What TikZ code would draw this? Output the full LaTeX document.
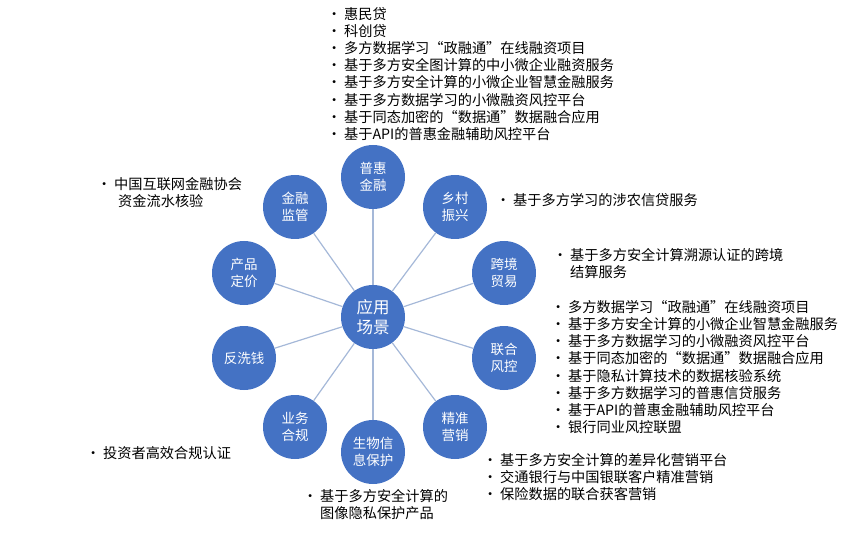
\documentclass[tikz,border=0pt]{standalone}
\usepackage{fontspec}
\setmainfont{Noto Sans CJK SC}
\newcommand{\bl}[1]{\makebox[17pt][l]{•}#1}
\newcommand{\cl}[1]{\makebox[17pt][l]{}#1}
\begin{document}
\begin{tikzpicture}[x=1pt,y=-1pt,
  sat/.style={circle,fill={rgb,255:red,68;green,114;blue,196},minimum size=64pt,inner sep=0pt,text=white,font=\fontsize{13.5}{17}\selectfont,align=center},
  spoke/.style={draw={rgb,255:red,165;green,184;blue,216},line width=1.2pt},
  lst/.style={anchor=north west,align=left,inner sep=0pt,font=\fontsize{14.2}{17.2}\selectfont}]
\useasboundingbox (0,0) rectangle (856,537);
\node[sat,font=\fontsize{16.5}{20}\selectfont] (c) at (373,317) {应用\\场景};
\foreach \n/\x/\y/\t in {a/373/177/{普惠\\金融},b/455/207/{乡村\\振兴},d/504/273/{跨境\\贸易},e/504/358/{联合\\风控},f/455/427/{精准\\营销},g/373/452/{生物信\\息保护},h/295/427/{业务\\合规},i/244/358/{反洗钱},j/244/273/{产品\\定价},k/295/207/{金融\\监管}}{
  \node[sat] (\n) at (\x,\y) {\t};
  \draw[spoke] (c) -- (\n);
}
\node[lst] (la) at (327,7) {\bl{惠民贷}\\\bl{科创贷}\\\bl{多方数据学习“政融通”在线融资项目}\\\bl{基于多方安全图计算的中小微企业融资服务}\\\bl{基于多方安全计算的小微企业智慧金融服务}\\\bl{基于多方数据学习的小微融资风控平台}\\\bl{基于同态加密的“数据通”数据融合应用}\\\bl{基于API的普惠金融辅助风控平台}};
\node[lst] (lk) at (97,177) {\bl{中国互联网金融协会}\\\cl{\hspace{4pt}资金流水核验}};
\node[lst] (lb) at (496,193) {\bl{基于多方学习的涉农信贷服务}};
\node[lst] (ld) at (553,248) {\bl{基于多方安全计算溯源认证的跨境}\\\cl{结算服务}};
\node[lst] (le) at (551,300) {\bl{多方数据学习“政融通”在线融资项目}\\\bl{基于多方安全计算的小微企业智慧金融服务}\\\bl{基于多方数据学习的小微融资风控平台}\\\bl{基于同态加密的“数据通”数据融合应用}\\\bl{基于隐私计算技术的数据核验系统}\\\bl{基于多方数据学习的普惠信贷服务}\\\bl{基于API的普惠金融辅助风控平台}\\\bl{银行同业风控联盟}};
\node[lst] (lf) at (483,453) {\bl{基于多方安全计算的差异化营销平台}\\\bl{交通银行与中国银联客户精准营销}\\\bl{保险数据的联合获客营销}};
\node[lst] (lg) at (303,489) {\bl{基于多方安全计算的}\\\cl{图像隐私保护产品}};
\node[lst] (lh) at (86,446) {\bl{投资者高效合规认证}};
\end{tikzpicture}
\end{document}
